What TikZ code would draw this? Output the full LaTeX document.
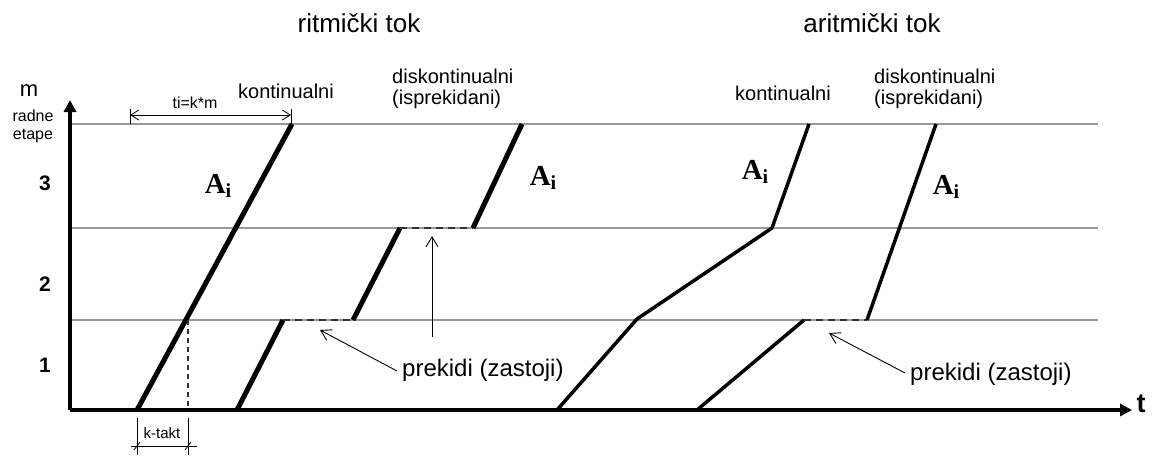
\documentclass[tikz,border=0pt]{standalone}
\usepackage{fontspec}
\setmainfont{Liberation Sans}
\newfontfamily\serifA{Liberation Serif}
\usetikzlibrary{arrows.meta}
\tikzset{
  grid line/.style={draw=black!40, line width=1.2pt},
  axis line/.style={line width=4pt, -{Triangle[length=12pt,width=12pt]}},
  thick flow/.style={line width=5pt},
  thin flow/.style={line width=3.5pt, line join=bevel},
  gap line/.style={line width=1.6pt, draw=black!80, dash pattern=on 7pt off 5pt},
  pointer/.style={line width=0.9pt, -{Straight Barb[length=10pt,width=12pt]}},
  dim/.style={line width=0.8pt},
  lbl/.style={font=\fontsize{20}{22}\selectfont, inner sep=0pt, align=left},
  ttl/.style={font=\fontsize{26}{28}\selectfont, inner sep=0pt},
  brk/.style={font=\fontsize{24}{26}\selectfont, inner sep=0pt},
  small/.style={font=\fontsize{16}{18}\selectfont, inner sep=0pt},
  num/.style={font=\bfseries\fontsize{21}{23}\selectfont, inner sep=0pt},
  alab/.style={font=\serifA\bfseries\fontsize{29}{30}\selectfont, inner sep=0pt},
}
\newcommand{\Ai}{A\raisebox{-0.35ex}{\fontsize{20}{20}\selectfont i}}
\begin{document}
\begin{tikzpicture}[x=1pt,y=-1pt]
\useasboundingbox (0,0) rectangle (1155,456);
% grid lines
\coordinate (g3a) at (72,124); \coordinate (g3b) at (1098,124);
\coordinate (g2a) at (72,228); \coordinate (g2b) at (1098,228);
\coordinate (g1a) at (72,320); \coordinate (g1b) at (1098,320);
\draw[grid line] (g3a) -- (g3b);
\draw[grid line] (g2a) -- (g2b);
\draw[grid line] (g1a) -- (g1b);
% axes
\coordinate (O) at (70,410);
\coordinate (ytop) at (70,100);
\coordinate (xend) at (1132,410);
\draw[axis line] (O) -- (ytop);
\draw[axis line] (O) -- (xend);
\node[font=\bfseries\fontsize{27}{28}\selectfont, inner sep=0pt] (tlab) at (1141,404) {t};
\node[font=\fontsize{22}{22}\selectfont, inner sep=0pt] (mlab) at (29,91) {m};
\node[small] (radne) at (33,116) {radne};
\node[small] (etape) at (33,136) {etape};
\node[num] (n3) at (45,183) {3};
\node[num] (n2) at (45,284) {2};
\node[num] (n1) at (45,365) {1};
% titles
\node[ttl] (t1) at (359,23) {ritmički tok};
\node[ttl] (t2) at (872,23) {aritmički tok};
% ---------- ritmic continuous
\coordinate (a0) at (137,410); \coordinate (a1) at (292,124);
\draw[thick flow] (a0) -- (a1);
\node[alab] (A1) at (218,186) {\Ai};
\node[lbl] (k1) at (286,91) {kontinualni};
% ti=k*m dimension
\coordinate (d1a) at (130,109); \coordinate (d1b) at (130,124);
\coordinate (d2a) at (291,109); \coordinate (d2b) at (291,124);
\coordinate (d1) at (130,115); \coordinate (d2) at (291,115);
\draw[dim] (d1a) -- (d1b);
\draw[dim] (d2a) -- (d2b);
\draw[dim, {Straight Barb[length=8pt,width=10pt]}-{Straight Barb[length=8pt,width=10pt]}] (d1) -- (d2);
\node[small] (tikm) at (195,103) {ti=k*m};
% k-takt
\coordinate (c0) at (188,320); \coordinate (c1) at (188,410);
\draw[gap line, line width=1.2pt, dash pattern=on 5pt off 4pt] (c0) -- (c1);
\coordinate (v1a) at (137,418); \coordinate (v1b) at (137,455);
\coordinate (v2a) at (188,418); \coordinate (v2b) at (188,455);
\draw[dim] (v1a) -- (v1b);
\draw[dim] (v2a) -- (v2b);
\coordinate (h1) at (131,446); \coordinate (h2) at (197,446);
\draw[dim] (h1) -- (h2);
\coordinate (s1a) at (134,450); \coordinate (s1b) at (140,442);
\coordinate (s2a) at (185,450); \coordinate (s2b) at (191,442);
\draw[dim] (s1a) -- (s1b);
\draw[dim] (s2a) -- (s2b);
\node[font=\fontsize{15}{16}\selectfont, inner sep=0pt] (kt) at (162,433) {k-takt};
% ---------- ritmic discontinuous
\coordinate (b0) at (237,410); \coordinate (b1) at (283,320);
\coordinate (b2) at (353,320); \coordinate (b3) at (400,228);
\coordinate (b4) at (473,228); \coordinate (b5) at (522,124);
\draw[thick flow] (b0) -- (b1);
\draw[gap line] (b1) -- (b2);
\draw[thick flow] (b2) -- (b3);
\draw[gap line] (b3) -- (b4);
\draw[thick flow] (b4) -- (b5);
\node[alab] (A2) at (543,178) {\Ai};
\node[lbl, align=left, anchor=west] (dk1) at (392,89) {diskontinualni\\[-1pt](isprekidani)};
% breaks labels
\node[brk, anchor=west] (p1) at (402,370) {prekidi (zastoji)};
\coordinate (p1tail) at (397,371); \coordinate (p1tip) at (320,330);
\draw[pointer] (p1tail) -- (p1tip);
\coordinate (up0) at (432,337); \coordinate (up1) at (432,236);
\draw[pointer] (up0) -- (up1);
% ---------- aritmic continuous
\coordinate (e0) at (557,410); \coordinate (e1) at (637,319);
\coordinate (e2) at (772,228); \coordinate (e3) at (809,124);
\draw[thin flow] (e0) -- (e1) -- (e2) -- (e3);
\node[alab] (A3) at (755,172) {\Ai};
\node[lbl] (k2) at (783,93) {kontinualni};
% ---------- aritmic discontinuous
\coordinate (f0) at (697,410); \coordinate (f1) at (804,320);
\coordinate (f2) at (867,320); \coordinate (f3) at (936,124);
\draw[thin flow] (f0) -- (f1);
\draw[gap line] (f1) -- (f2);
\draw[thin flow] (f2) -- (f3);
\node[alab] (A4) at (946,187) {\Ai};
\node[lbl, anchor=west] (dk2) at (874,89) {diskontinualni\\[-1pt](isprekidani)};
\node[brk, anchor=west] (p2) at (910,374) {prekidi (zastoji)};
\coordinate (p2tail) at (905,373); \coordinate (p2tip) at (829,333);
\draw[pointer] (p2tail) -- (p2tip);
\end{tikzpicture}
\end{document}
